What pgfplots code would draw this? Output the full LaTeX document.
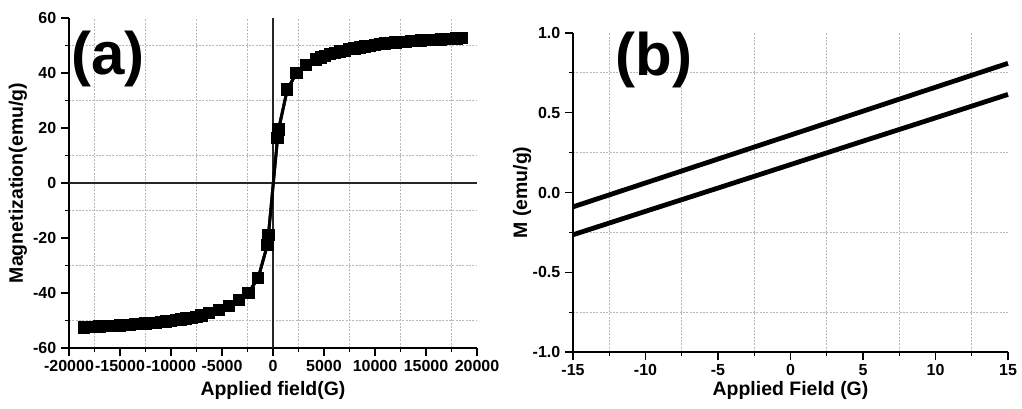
\documentclass[border=0pt]{standalone}
\usepackage{fontspec}
\setmainfont{Liberation Sans}
\usepackage{pgfplots}
\pgfplotsset{compat=1.18}
\begin{document}
\begin{tikzpicture}
\path[use as bounding box] (0,0) rectangle (766.5pt,-306pt);
\pgfplotsset{
  myax/.style={
    scale only axis,
    axis lines*=left,
    axis line style={-, line width=1pt, black},
    tick align=outside,
    major tick length=6pt,
    minor tick length=3pt,
    every tick/.style={black, line width=0.9pt},
    minor x tick num=1, minor y tick num=1,
    grid=minor,
    minor grid style={dash pattern=on 1.6pt off 0.9pt, black!28, line width=0.6pt},
    tick label style={font=\fontsize{12}{14}\selectfont\bfseries},
    label style={font=\fontsize{14.6}{17}\selectfont\bfseries},
    /pgf/number format/assume math mode=true,
    clip=false,
  }
}
% ---------- panel (a)
\begin{axis}[myax,
  at={(51.75pt,-13.5pt)}, anchor=north west,
  width=306pt, height=247.5pt,
  xmin=-20000, xmax=20000, ymin=-60, ymax=60,
  xtick={-20000,-15000,...,20000},
  ytick={-60,-40,...,60},
  scaled x ticks=false,
  /pgf/number format/1000 sep={},
  extra x ticks={0}, extra y ticks={0},
  extra x tick labels={}, extra y tick labels={},
  extra tick style={grid=major, major grid style={solid, black!85, line width=0.9pt}, major tick length=0pt},
  xlabel={Applied field(G)},
  ylabel={Magnetization(emu/g)},
  xlabel style={at={(axis description cs:0.5,0)}, anchor=center, yshift=-32pt},
  ylabel style={at={(axis description cs:-0.125,0.5)}, anchor=center},
]
% increasing-field branch
\addplot[black, line width=2.2pt, mark=square*, mark size=3.5pt, mark options={solid}] coordinates {
(-18500,-52.5) (-17500,-52.3) (-16500,-52.1) (-15500,-51.9) (-14500,-51.7)
(-13500,-51.4) (-12500,-51.1) (-11500,-50.8) (-10500,-50.4) (-9500,-49.9)
(-8500,-49.3) (-7500,-48.6) (-6300,-47.4) (-5300,-46.2) (-4300,-44.7)
(-3350,-42.5) (-2400,-39.9) (-1450,-34.5) (-550,-22.5) (-450,-19.0)
(450,16.5) (550,19.5) (1400,34.0) (2300,40.0) (3250,43.0) (4200,44.9)
(5100,46.3) (6100,47.3) (7000,48.1) (8000,48.9) (9000,49.6) (10000,50.2)
(11000,50.7) (12000,51.1) (13000,51.4) (14000,51.7) (15000,51.9)
(16000,52.1) (17000,52.3) (18000,52.5) (18500,52.6)
};
% decreasing-field branch
\addplot[black, line width=2.2pt, mark=square*, mark size=3.5pt, mark options={solid}] coordinates {
(18500,52.6) (17500,52.4) (16500,52.2) (15500,52.0) (14500,51.8)
(13500,51.6) (12500,51.3) (11500,50.9) (10500,50.5) (9500,49.9)
(8500,49.3) (7500,48.6) (6600,47.8) (5600,46.8) (4700,45.6)
(3250,43.0) (2300,40.0) (1400,34.0) (550,19.5) (450,16.5)
(-450,-19.0) (-550,-22.5) (-1450,-34.5) (-2400,-39.9) (-3350,-42.5)
(-4300,-44.7) (-5300,-46.2) (-6300,-47.4) (-7000,-48.2) (-8000,-49.0)
(-9000,-49.6) (-10000,-50.2) (-11000,-50.6) (-12000,-51.0) (-13000,-51.3)
(-14000,-51.6) (-15000,-51.8) (-16000,-52.0) (-17000,-52.2) (-18000,-52.4)
};
\node[anchor=west, inner sep=0pt, font=\fontsize{45}{50}\selectfont\bfseries] at (rel axis cs:0.005,0.876) {(a)};
\end{axis}
% ---------- panel (b)
\begin{axis}[myax,
  at={(429.75pt,-24.75pt)}, anchor=north west,
  width=326.25pt, height=239.25pt,
  xmin=-15, xmax=15, ymin=-1, ymax=1,
  xtick={-15,-10,...,15},
  ytick={-1,-0.5,...,1},
  yticklabel style={/pgf/number format/.cd, fixed, fixed zerofill, precision=1},
  xlabel={Applied Field (G)},
  ylabel={M (emu/g)},
  xlabel style={at={(axis description cs:0.5,0)}, anchor=center, yshift=-28.5pt},
  ylabel style={at={(axis description cs:-0.117,0.5)}, anchor=center},
]
\addplot[black, line width=3.6pt] coordinates {
(-15,-0.09) (-10,0.06) (-5,0.21) (0,0.36) (5,0.51) (10,0.66) (15,0.81)
};
\addplot[black, line width=3.6pt] coordinates {
(-15,-0.265) (-10,-0.118) (-5,0.028) (0,0.175) (5,0.322) (10,0.468) (15,0.615)
};
\node[anchor=west, inner sep=0pt, font=\fontsize{45}{50}\selectfont\bfseries] at (rel axis cs:0.097,0.915) {(b)};
\end{axis}
\end{tikzpicture}
\end{document}
